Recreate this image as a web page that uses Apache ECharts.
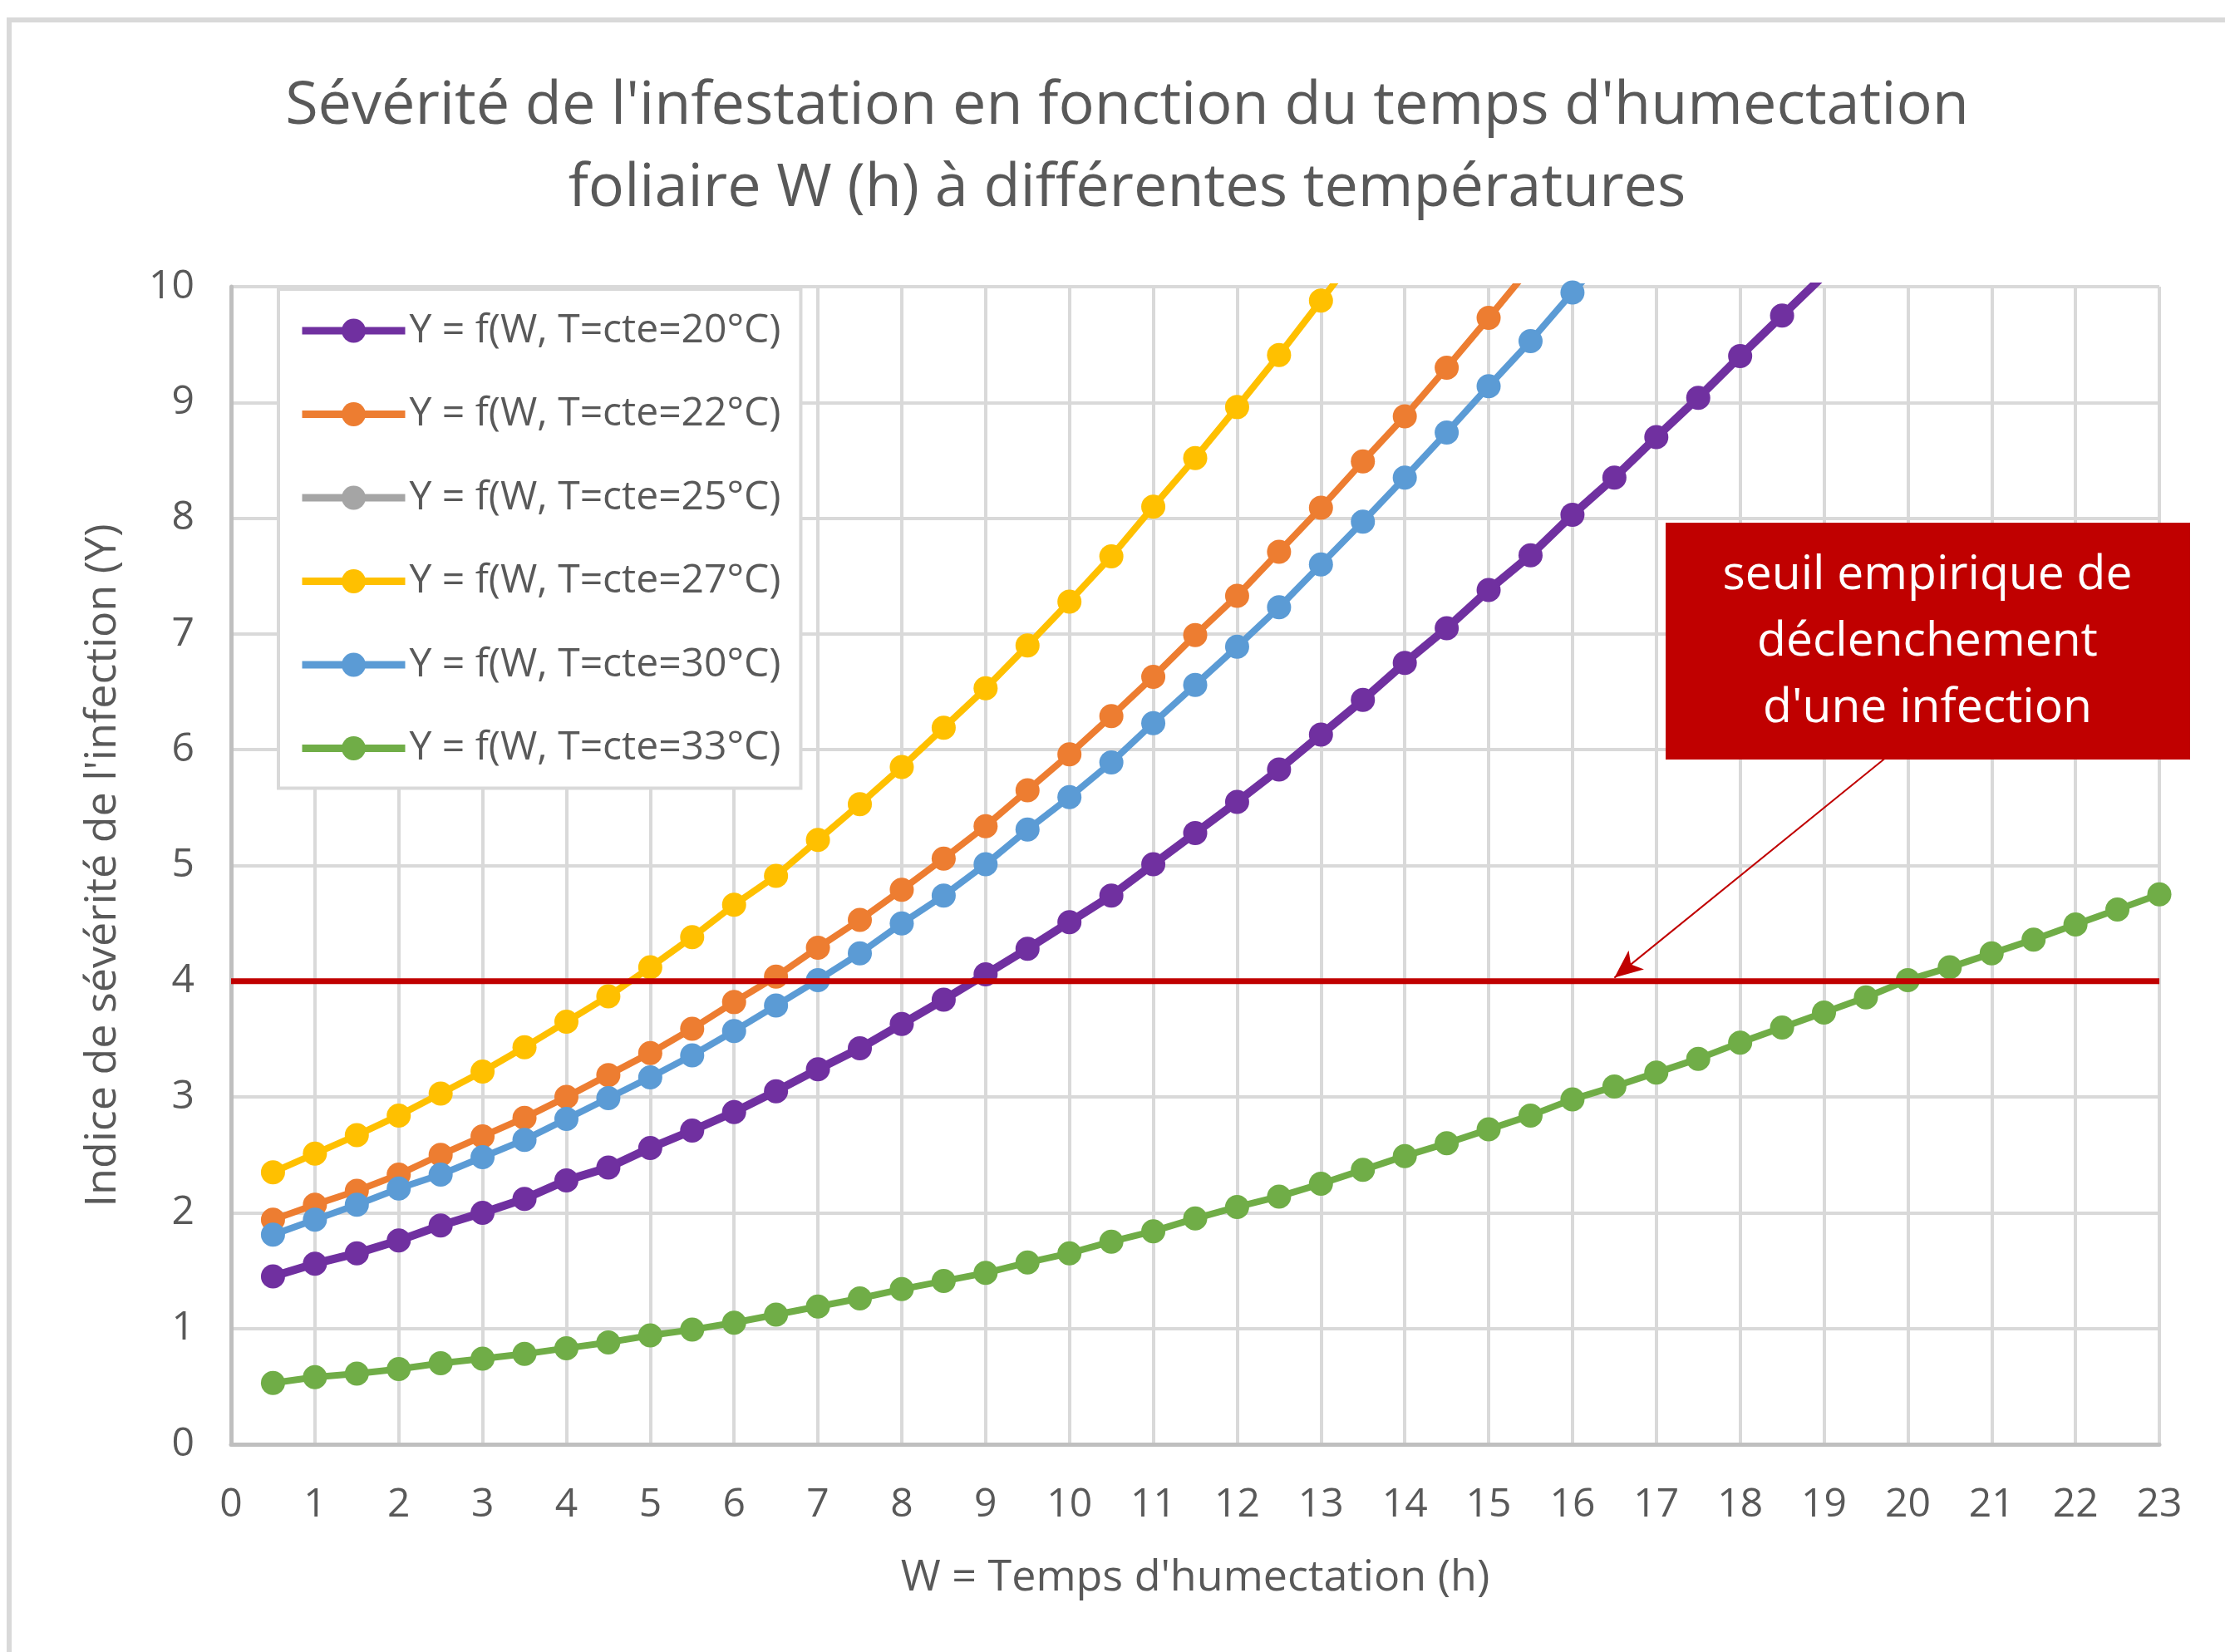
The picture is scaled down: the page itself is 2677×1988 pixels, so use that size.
<!DOCTYPE html>
<html><head><meta charset="utf-8">
<script src="https://cdn.jsdelivr.net/npm/echarts@6/dist/echarts.min.js"></script>
<style>html,body{margin:0;padding:0;background:#fff}#c{width:2677px;height:1988px}</style>
</head><body><div id="c"></div>
<script>
const W = [0.5,1,1.5,2,2.5,3,3.5,4,4.5,5,5.5,6,6.5,7,7.5,8,8.5,9,9.5,10,10.5,11,11.5,12,12.5,13,13.5,14,14.5,15,15.5,16,16.5,17,17.5,18,18.5,19,19.5,20,20.5,21,21.5,22,22.5,23];
const y20 = [1.45,1.56,1.65,1.76,1.89,2.00,2.12,2.28,2.39,2.56,2.71,2.87,3.05,3.24,3.42,3.63,3.84,4.06,4.28,4.51,4.74,5.01,5.28,5.55,5.83,6.13,6.43,6.75,7.05,7.38,7.68,8.03,8.35,8.70,9.04,9.40,9.75,10.10];
const y22 = [1.94,2.07,2.19,2.33,2.50,2.66,2.82,3.00,3.19,3.38,3.59,3.82,4.04,4.29,4.53,4.79,5.06,5.34,5.65,5.96,6.29,6.63,6.99,7.33,7.71,8.09,8.49,8.88,9.30,9.73,10.17];
const y25 = [];
const y27 = [2.35,2.51,2.67,2.84,3.03,3.22,3.43,3.65,3.87,4.12,4.38,4.66,4.91,5.22,5.53,5.85,6.19,6.53,6.90,7.28,7.67,8.10,8.52,8.96,9.41,9.88,10.35];
const y30 = [1.81,1.94,2.07,2.21,2.33,2.48,2.63,2.81,2.99,3.17,3.36,3.57,3.79,4.01,4.24,4.50,4.74,5.01,5.31,5.59,5.89,6.23,6.56,6.89,7.23,7.60,7.97,8.35,8.74,9.14,9.53,9.95,10.35];
const y33 = [0.53,0.58,0.61,0.65,0.70,0.74,0.78,0.83,0.88,0.94,0.99,1.05,1.12,1.19,1.26,1.34,1.41,1.48,1.57,1.65,1.75,1.84,1.95,2.05,2.14,2.25,2.37,2.49,2.60,2.72,2.84,2.98,3.09,3.21,3.33,3.47,3.60,3.73,3.86,4.01,4.12,4.24,4.36,4.49,4.62,4.75];
const seriesNames = ['Y = f(W, T=cte=20°C)','Y = f(W, T=cte=22°C)','Y = f(W, T=cte=25°C)','Y = f(W, T=cte=27°C)','Y = f(W, T=cte=30°C)','Y = f(W, T=cte=33°C)'];
const seriesValues = [y20,y22,y25,y27,y30,y33];
const colors = ['#7030A0','#ED7D31','#A5A5A5','#FFC000','#5B9BD5','#70AD47'];
const threshold = 4;
const thresholdX = [0,23];
const arrowFrom = [19.72,5.92];
const arrowTo = [16.50,4.03];
const xTicks = {min:0,max:23,interval:1};
const yTicks = {min:0,max:10,interval:1};
const titleText = "Sévérité de l'infestation en fonction du temps d'humectation\nfoliaire W (h) à différentes températures";
const xName = "W = Temps d'humectation (h)";
const yName = "Indice de sévérité de l'infection (Y)";
const noteText = "seuil empirique de\ndéclenchement\nd'une infection";

const FONT = "'Open Sans', 'Noto Sans', sans-serif";
const chart = echarts.init(document.getElementById('c'));
const series = seriesValues.map((vals, i) => ({
  name: seriesNames[i], type: 'line',
  data: vals.map((v, k) => [W[k], v]),
  symbol: 'circle', symbolSize: 29, showSymbol: true,
  lineStyle: {color: colors[i], width: i === 0 ? 10 : 8},
  itemStyle: {color: colors[i]},
  clip: true, z: 3 + i
}));
series.push({
  name: 'seuil', type: 'line',
  data: thresholdX.map(x => [x, threshold]),
  symbol: 'none', lineStyle: {color: '#C00000', width: 7}, z: 20,
  markLine: {
    silent: true, symbol: ['none','arrow'], symbolSize: [22, 34],
    label: {show: false},
    lineStyle: {color: '#C00000', width: 2, type: 'solid'},
    data: [[{coord: arrowFrom}, {coord: arrowTo}]]
  }
});
chart.setOption({
  animation: false,
  backgroundColor: '#fff',
  color: colors,
  title: {
    text: titleText, left: 1351, top: 74, textAlign: 'center',
    textStyle: {fontFamily: FONT, fontSize: 72, fontWeight: 'normal', color: '#595959', lineHeight: 99}
  },
  legend: {
    data: seriesNames, orient: 'vertical', left: 335, top: 348,
    itemWidth: 124, itemHeight: 36, itemGap: 50.5,
    padding: [25, 24, 23, 24],
    lineStyle: {width: 9},
    borderColor: '#D9D9D9', borderWidth: 4, backgroundColor: '#fff',
    textStyle: {fontFamily: FONT, fontSize: 48, color: '#595959', lineHeight: 50}
  },
  grid: {left: 278, right: 79, top: 345, bottom: 250, containLabel: false},
  xAxis: {
    type: 'value', min: xTicks.min, max: xTicks.max, interval: xTicks.interval,
    name: xName, nameLocation: 'middle', nameGap: 135,
    nameTextStyle: {fontFamily: FONT, fontSize: 52, color: '#595959'},
    axisLine: {show: true, lineStyle: {color: '#BFBFBF', width: 5}},
    axisTick: {show: false},
    axisLabel: {fontFamily: FONT, fontSize: 48, color: '#595959', margin: 49},
    splitLine: {show: true, lineStyle: {color: '#D9D9D9', width: 4}}
  },
  yAxis: {
    type: 'value', min: yTicks.min, max: yTicks.max, interval: yTicks.interval,
    name: yName, nameLocation: 'middle', nameGap: 128,
    nameTextStyle: {fontFamily: FONT, fontSize: 52, color: '#595959'},
    axisLine: {show: true, lineStyle: {color: '#BFBFBF', width: 5}},
    axisTick: {show: false},
    axisLabel: {fontFamily: FONT, fontSize: 48, color: '#595959', margin: 44},
    splitLine: {show: true, lineStyle: {color: '#D9D9D9', width: 4}}
  },
  graphic: [
    {type: 'rect', shape: {x: 8, y: 21, width: 2669, height: 6}, style: {fill: '#D9D9D9'}, silent: true},
    {type: 'rect', shape: {x: 8, y: 21, width: 6, height: 1967}, style: {fill: '#D9D9D9'}, silent: true},
    {type: 'rect', z: 100, shape: {x: 2004, y: 629, width: 631, height: 285}, style: {fill: '#C00000'}},
    {type: 'text', z: 101, x: 2319, y: 773, style: {
      text: noteText, fill: '#fff', fontFamily: FONT, fontSize: 57, lineHeight: 80,
      align: 'center', verticalAlign: 'middle'}}
  ],
  series: series
});
</script></body></html>
